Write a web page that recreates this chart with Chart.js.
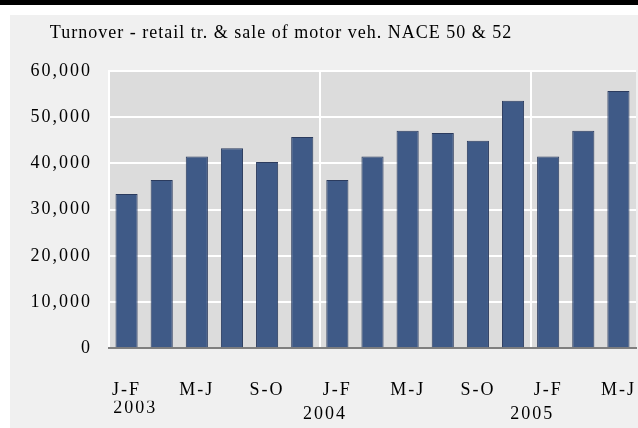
<!DOCTYPE html>
<html>
<head>
<meta charset="utf-8">
<script src="https://cdn.jsdelivr.net/npm/chart.js@4/dist/chart.umd.min.js"></script>
<style>
  body { margin: 0; background: #fff; }
</style>
</head>
<body>
<canvas id="myChart" width="638" height="428"></canvas>
<script>
const periods = ['J-F', 'M-A', 'M-J', 'J-A', 'S-O', 'N-D',
                 'J-F', 'M-A', 'M-J', 'J-A', 'S-O', 'N-D',
                 'J-F', 'M-A', 'M-J'];
const turnover = [33350, 36400, 41500, 43250, 40300, 45700,
                  36400, 41500, 47050, 46600, 44900, 53550,
                  41500, 47050, 55650];
const yearLabels = ['2003', '2004', '2005'];
const yearPos = [0.75, 6.15, 12.05];
const titleText = 'Turnover - retail tr. & sale of motor veh. NACE 50 & 52';

const serif = 'Liberation Serif';
const clear = 'rgba(0,0,0,0)';

// fonds, bande noire et titre
const decor = {
    id: 'decor',
    beforeUpdate(chart) {
        chart.ctx.letterSpacing = '2px';
    },
    beforeDraw(chart) {
        const c = chart.ctx;
        c.save();
        c.fillStyle = '#ffffff';
        c.fillRect(0, 0, chart.width, chart.height);
        c.fillStyle = '#000000';
        c.fillRect(0, 0, chart.width, 5);
        c.fillStyle = '#f0f0f0';
        c.fillRect(10, 15, chart.width - 10, chart.height - 15);
        const a = chart.chartArea;
        c.fillStyle = '#dcdcdc';
        c.fillRect(a.left, a.top, a.right - a.left, a.bottom - a.top);
        c.fillStyle = '#000000';
        c.letterSpacing = '1px';
        c.font = '18px "' + serif + '"';
        c.textAlign = 'center';
        c.textBaseline = 'alphabetic';
        c.fillText(titleText, 281, 38);
        c.restore();
        chart.ctx.letterSpacing = '2px';
    }
};

const ctx = document.getElementById('myChart');

new Chart(ctx, {
    type: 'bar',
    data: {
        labels: periods,
        datasets: [{
            label: 'Turnover',
            data: turnover,
            backgroundColor: '#3f5a87',
            borderColor: '#2b3b5e',
            borderWidth: 1,
            categoryPercentage: 1,
            barPercentage: 0.63
        }]
    },
    options: {
        responsive: false,
        animation: false,
        layout: { padding: { left: 10, right: 2, top: 71, bottom: 7 } },
        plugins: {
            legend: { display: false },
            title: { display: false },
            tooltip: { enabled: false }
        },
        scales: {
            y: {
                min: 0,
                max: 60000,
                afterFit(scale) { scale.width = 99; },
                ticks: {
                    stepSize: 10000,
                    padding: 3,
                    color: '#000',
                    font: { family: serif, size: 18 },
                    callback: v => v.toLocaleString('en-US')
                },
                grid: { color: '#ffffff', lineWidth: 2, tickLength: 14, tickColor: clear },
                border: { display: true, color: '#ffffff', width: 2 }
            },
            x: {
                weight: 0,
                ticks: {
                    autoSkip: false,
                    maxRotation: 0,
                    padding: 0,
                    color: '#000',
                    font: { family: serif, size: 18 },
                    callback: (v, i) => i % 2 === 0 ? periods[i] : ''
                },
                grid: {
                    tickLength: 31,
                    tickColor: clear,
                    lineWidth: 2,
                    color: c => (c.index === 6 || c.index === 12) ? '#ffffff' : clear
                },
                border: { display: true, color: '#7f7f7f', width: 2 }
            },
            x2: {
                type: 'linear',
                position: 'bottom',
                weight: 1,
                offset: false,
                min: 0,
                max: periods.length,
                afterBuildTicks(scale) {
                    scale.ticks = yearPos.map(v => ({ value: v }));
                },
                ticks: {
                    padding: 4,
                    maxRotation: 0,
                    color: '#000',
                    font: { family: serif, size: 18, lineHeight: 0.34 },
                    // 2004 et 2005 un peu plus bas que 2003
                    callback: (v, i) => i === 0 ? yearLabels[i] : ['', yearLabels[i]]
                },
                grid: { display: false, drawTicks: false },
                border: { display: false }
            }
        }
    },
    plugins: [decor]
});
</script>
</body>
</html>
